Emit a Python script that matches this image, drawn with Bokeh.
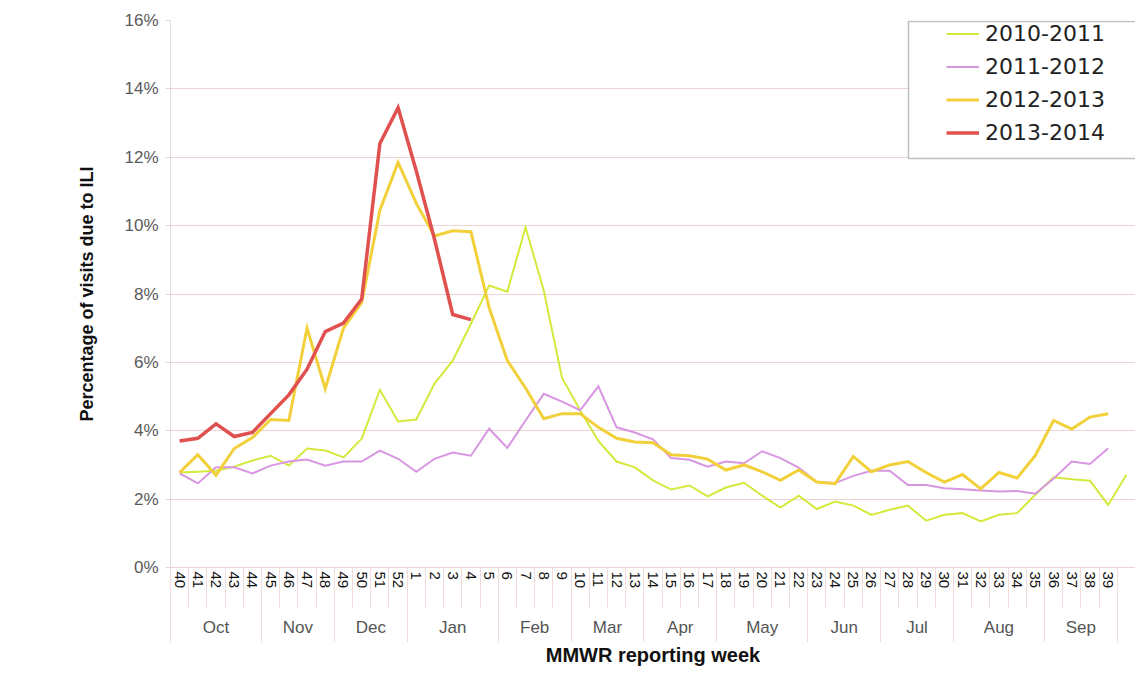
from bokeh.plotting import figure
from bokeh.models import FixedTicker, LinearAxis, Range1d, PrintfTickFormatter, BoxAnnotation
from bokeh.embed import file_html
from bokeh.resources import INLINE

# ---------------- data ----------------
weeks = [str(w) for w in list(range(40, 53)) + list(range(1, 40))] + [""]
months = ["Oct", "Nov", "Dec", "Jan", "Feb", "Mar", "Apr", "May", "Jun", "Jul", "Aug", "Sep"]
weeks_per_month = [5, 4, 4, 5, 4, 4, 4, 5, 4, 4, 5, 4]

season_2010_2011 = [2.78, 2.8, 2.83, 2.95, 3.13, 3.27, 2.98, 3.48, 3.42, 3.22,
                    3.77, 5.2, 4.27, 4.33, 5.38, 6.05, 7.13, 8.25, 8.07, 9.95,
                    8.1, 5.55, 4.6, 3.7, 3.1, 2.93, 2.55, 2.28, 2.4, 2.08,
                    2.34, 2.48, 2.1, 1.75, 2.1, 1.71, 1.93, 1.81, 1.54, 1.69,
                    1.81, 1.37, 1.54, 1.59, 1.35, 1.54, 1.59, 2.13, 2.64, 2.58,
                    2.54, 1.83, 2.71]
season_2011_2012 = [2.75, 2.46, 2.93, 2.93, 2.75, 2.98, 3.1, 3.16, 2.98, 3.1,
                    3.1, 3.42, 3.18, 2.8, 3.18, 3.36, 3.27, 4.06, 3.5, 4.3,
                    5.08, 4.85, 4.6, 5.3, 4.1, 3.95, 3.75, 3.2, 3.15, 2.95,
                    3.1, 3.05, 3.4, 3.2, 2.92, 2.5, 2.47, 2.68, 2.83, 2.83,
                    2.41, 2.41, 2.32, 2.29, 2.25, 2.22, 2.24, 2.16, 2.6, 3.1,
                    3.03, 3.49]
season_2012_2013 = [2.78, 3.3, 2.7, 3.48, 3.8, 4.33, 4.3, 7.0, 5.23, 7.0,
                    7.75, 10.45, 11.85, 10.65, 9.7, 9.85, 9.82, 7.6, 6.05, 5.25,
                    4.35, 4.5, 4.5, 4.1, 3.78, 3.67, 3.65, 3.3, 3.27, 3.17,
                    2.85, 3.0, 2.8, 2.55, 2.85, 2.5, 2.45, 3.25, 2.8, 3.0,
                    3.1, 2.78, 2.5, 2.72, 2.3, 2.78, 2.62, 3.28, 4.3, 4.05,
                    4.4, 4.5]
season_2013_2014 = [3.7, 3.78, 4.2, 3.83, 3.95, 4.5, 5.05, 5.8, 6.9, 7.15,
                    7.85, 12.4, 13.45, 11.6, 9.6, 7.4, 7.25]

series = [
    ("2010-2011", season_2010_2011, "#d5e83c", 2),
    ("2011-2012", season_2011_2012, "#d896e2", 2),
    ("2012-2013", season_2012_2013, "#f2d03a", 3),
    ("2013-2014", season_2013_2014, "#e0504f", 3.5),
]

# ---------------- figure ----------------
n = len(weeks)
p = figure(width=1135, height=685, output_backend="svg", toolbar_location=None,
           x_range=Range1d(-0.5, n - 0.5), y_range=Range1d(0, 16),
           min_border_left=170, min_border_right=0, min_border_top=20,
           min_border_bottom=118, background_fill_color="white",
           border_fill_color="white")
p.outline_line_color = None

# legend box border (drawn beneath the legend)
box = BoxAnnotation(left=908, right=1160, top=21, bottom=158,
                    left_units="canvas", right_units="canvas",
                    top_units="canvas", bottom_units="canvas",
                    fill_color="white", fill_alpha=1,
                    line_color="#333333", line_width=1.5)
p.add_layout(box)

for name, vals, color, lw in series:
    p.line(list(range(len(vals))), vals, line_color=color, line_width=lw,
           legend_label=name, line_join="miter")

# y axis
yticks = list(range(0, 17, 2))
p.yaxis.ticker = FixedTicker(ticks=yticks)
p.yaxis.formatter = PrintfTickFormatter(format="%d%%")
p.yaxis.axis_label = "Percentage of visits due to ILI"
p.yaxis.axis_label_text_font = "Liberation Sans"
p.yaxis.axis_label_text_font_style = "bold"
p.yaxis.axis_label_text_font_size = "18px"
p.yaxis.axis_label_text_color = "#111111"
p.yaxis.axis_label_standoff = 24
p.yaxis.major_label_text_font = "Liberation Sans"
p.yaxis.major_label_text_font_size = "17px"
p.yaxis.major_label_text_color = "#5a5a5a"
p.yaxis.major_label_standoff = 7
p.yaxis.major_tick_out = 5
p.yaxis.major_tick_in = 0
p.yaxis.major_tick_line_color = "#e6d6d6"
p.yaxis.minor_tick_line_color = None
p.yaxis.axis_line_color = "#e6dada"

p.ygrid.ticker = FixedTicker(ticks=yticks)
p.ygrid.grid_line_color = "#ecd4d4"
p.ygrid.grid_line_width = 1
p.xgrid.visible = False

# week axis
wx = p.xaxis[0]
wx.ticker = FixedTicker(ticks=list(range(n)), minor_ticks=[i - 0.5 for i in range(n + 1)])
wx.major_label_overrides = {i: w for i, w in enumerate(weeks)}
wx.major_label_orientation = "vertical"
wx.major_label_text_font = "Liberation Sans"
wx.major_label_text_font_size = "15px"
wx.major_label_text_color = "#111111"
wx.major_tick_line_color = None
wx.major_tick_out = 0
wx.major_tick_in = 0
wx.minor_tick_line_color = "#f0dcdc"
wx.minor_tick_out = 40
wx.minor_tick_in = 0
wx.major_label_standoff = -36
wx.axis_line_color = "#e8d2d2"

# month axis
bounds = [-0.5]
for c in weeks_per_month:
    bounds.append(bounds[-1] + c)
centers = [(bounds[i] + bounds[i + 1]) / 2 for i in range(len(months))]
bounds.append(n - 0.5)
mx = LinearAxis(ticker=FixedTicker(ticks=centers, minor_ticks=bounds))
mx.major_label_overrides = {c: m for c, m in zip(centers, months)}
mx.major_label_text_font = "Liberation Sans"
mx.major_label_text_font_size = "17px"
mx.major_label_text_color = "#555555"
mx.major_tick_line_color = None
mx.major_tick_out = 0
mx.major_tick_in = 0
mx.minor_tick_line_color = "#f0dcdc"
mx.minor_tick_out = 51
mx.minor_tick_in = 0
mx.major_label_standoff = -25
mx.axis_line_color = None
mx.axis_label = "MMWR reporting week"
mx.axis_label_text_font = "Liberation Sans"
mx.axis_label_text_font_style = "bold"
mx.axis_label_text_font_size = "20px"
mx.axis_label_text_color = "#111111"
mx.axis_label_standoff = 4
p.add_layout(mx, "below")

# legend
leg = p.legend[0]
leg.location = "top_right"
leg.margin = 0
leg.padding = 6
leg.spacing = 6
leg.glyph_width = 33
leg.glyph_height = 27
leg.label_height = 27
leg.label_width = 150
leg.label_standoff = 6
leg.label_text_font = "DejaVu Sans"
leg.label_text_font_size = "22px"
leg.label_text_color = "#222222"
leg.border_line_color = None
leg.background_fill_alpha = 0

open("out.html", "w").write(file_html(p, INLINE))
